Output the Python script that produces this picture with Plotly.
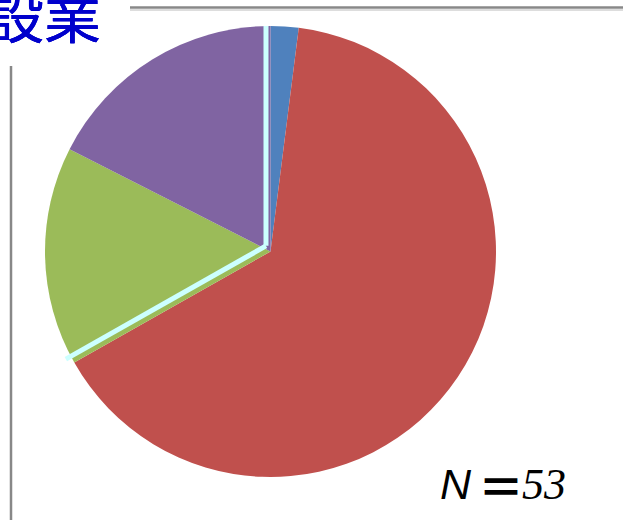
import math
import plotly.graph_objects as go

# ---- data ----
labels = ["A", "B", "C", "D"]
values = [2.0, 64.8, 15.7, 17.5]
colors = ["#4F81BD", "#C0504D", "#9BBB59", "#8064A2"]
title_text = "建設業"
n_text = "N"
eq_text = "＝"
n_value = "53"

W, H = 623, 520
# pie domain in pixels
px0, px1 = 45, 496
py0, py1 = 26, 477
dom_x = [px0 / W, px1 / W]
dom_y = [1 - py1 / H, 1 - py0 / H]

fig = go.Figure()
fig.add_trace(go.Pie(
    labels=labels, values=values, sort=False, direction="clockwise",
    rotation=0, marker=dict(colors=colors, line=dict(width=0)),
    textinfo="none", hoverinfo="label+percent", showlegend=False,
    domain=dict(x=dom_x, y=dom_y),
))
# invisible helper trace so that the cartesian axes exist
fig.add_trace(go.Scatter(x=[0], y=[0], mode="markers", marker=dict(opacity=0),
                         hoverinfo="skip", showlegend=False))

shapes = [
    dict(type="line", xref="paper", yref="paper", x0=130 / W, x1=1,
         y0=1 - 10 / H, y1=1 - 10 / H, line=dict(color="#DDDDDD", width=2)),
    dict(type="line", xref="paper", yref="paper", x0=130 / W, x1=1,
         y0=1 - 7.5 / H, y1=1 - 7.5 / H, line=dict(color="#888888", width=2.5)),
    dict(type="line", xref="paper", yref="paper", x0=11 / W, x1=11 / W,
         y0=0, y1=1 - 66 / H, line=dict(color="#888888", width=2.5)),
]

# decorative cyan separator lines at slice boundaries (derived from data)
total = sum(values)
bounds = [0.0, (values[0] + values[1]) / total]
ext = [1.03, 1.02]
for b, e in zip(bounds, ext):
    ang = 2 * math.pi * b
    shapes.append(dict(type="line", xref="x", yref="y", layer="above",
                       x0=-0.02, y0=0.025,
                       x1=e * math.sin(ang) - 0.02, y1=e * math.cos(ang) + 0.025,
                       line=dict(color="#CCFFFF", width=5)))

fig.update_layout(
    width=W, height=H, margin=dict(l=0, r=0, t=0, b=0),
    paper_bgcolor="white", plot_bgcolor="rgba(0,0,0,0)",
    xaxis=dict(domain=dom_x, range=[-1, 1], visible=False, fixedrange=True),
    yaxis=dict(domain=dom_y, range=[-1, 1], visible=False, fixedrange=True),
    shapes=shapes,
    annotations=[
        dict(text=title_text, xref="paper", yref="paper", x=103 / W, y=1 - 13 / H,
             xanchor="right", yanchor="middle", showarrow=False,
             font=dict(family="Noto Sans CJK JP", size=57, color="#0000CC",
                       shadow="0.35px 0 0 #0000CC, -0.35px 0 0 #0000CC")),
        dict(text="<i>" + n_text + "</i>", xref="paper", yref="paper",
             x=438 / W, y=1 - 484 / H, xanchor="left", yanchor="middle", showarrow=False,
             font=dict(family="Liberation Sans", size=43, color="black")),
        dict(text=eq_text, xref="paper", yref="paper",
             x=501 / W, y=1 - 484 / H, xanchor="center", yanchor="middle", showarrow=False,
             font=dict(family="Noto Sans CJK JP", size=46, color="black", weight="bold")),
        dict(text="<i>" + n_value + "</i>", xref="paper", yref="paper",
             x=520 / W, y=1 - 484 / H, xanchor="left", yanchor="middle", showarrow=False,
             font=dict(family="Liberation Serif", size=44, color="black")),
    ],
)

fig.write_html("out.html")
